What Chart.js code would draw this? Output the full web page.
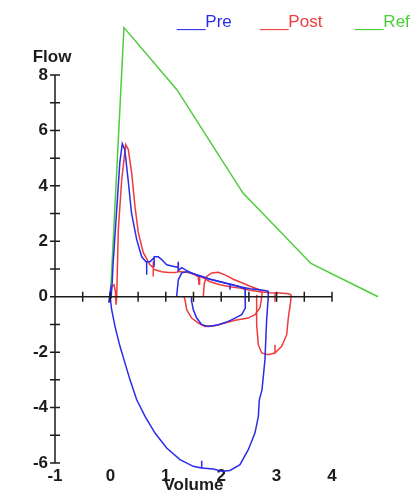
<!DOCTYPE html>
<html>
<head>
<meta charset="utf-8">
<script src="https://cdn.jsdelivr.net/npm/chart.js@4.4.1/dist/chart.umd.min.js"></script>
<style>
  html, body { margin: 0; padding: 0; background: #fff; }
</style>
</head>
<body>
<canvas id="loopChart" width="415" height="496"></canvas>
<script>
// flow-volume loops, [volume, flow]
const preTrial1 = [
  [0.00, 0.00], [-0.03, -0.22], [0.00, 0.22], [0.01, -0.07], [0.03, 0.43], [0.05, 1.23],
  [0.11, 3.03], [0.17, 4.84], [0.215, 5.52], [0.26, 5.30], [0.32, 4.22], [0.38, 3.03],
  [0.475, 2.06], [0.565, 1.44], [0.655, 1.23], [0.655, 0.79], [0.655, 1.26], [0.715, 1.26],
  [0.79, 1.41], [0.79, 1.08], [0.79, 1.44], [0.865, 1.44], [0.926, 1.34], [1.016, 1.15],
  [1.166, 1.08], [1.226, 1.05], [1.226, 1.26], [1.226, 0.94], [1.287, 1.05], [1.437, 0.87],
  [1.617, 0.76], [1.798, 0.63], [1.978, 0.54], [2.159, 0.45], [2.159, 0.25], [2.159, 0.45],
  [2.339, 0.36], [2.52, 0.29], [2.70, 0.25], [2.845, 0.20],
  [2.85, 0.00], [2.82, -0.83], [2.79, -2.27], [2.736, -3.36], [2.688, -3.72], [2.67, -4.33],
  [2.61, -4.91], [2.489, -5.52], [2.339, -6.06], [2.159, -6.27], [2.009, -6.30], [1.857, -6.22],
  [1.648, -6.18], [1.648, -5.92], [1.648, -6.18], [1.496, -6.12], [1.256, -5.88], [1.016, -5.46],
  [0.805, -4.92], [0.625, -4.32], [0.475, -3.72], [0.354, -3.00], [0.245, -2.27], [0.173, -1.79],
  [0.083, -1.07], [0.023, -0.47], [0.00, -0.11]
];
const preTrial2 = [
  [1.196, 0.00], [1.211, 0.32], [1.226, 0.61], [1.287, 0.86], [1.406, 0.91], [1.587, 0.76],
  [1.767, 0.65], [1.948, 0.56], [2.128, 0.47], [2.309, 0.38], [2.43, 0.29], [2.44, 0.18],
  [2.43, -0.41], [2.37, -0.65], [2.249, -0.77], [2.128, -0.89], [1.948, -1.01], [1.767, -1.07],
  [1.648, -1.01], [1.558, -0.77], [1.496, -0.47], [1.467, -0.17], [1.464, 0.00]
];
const postTrial1 = [
  [0.00, 0.00], [0.023, 0.36], [0.065, 0.43], [0.092, 0.18], [0.101, -0.29], [0.114, 0.00],
  [0.143, 2.42], [0.204, 4.22], [0.276, 5.49], [0.323, 5.31], [0.384, 4.47], [0.444, 3.25],
  [0.504, 2.31], [0.594, 1.59], [0.715, 1.15], [0.774, 1.05], [0.774, 1.27], [0.774, 0.73],
  [0.774, 1.00], [0.805, 0.97], [0.926, 0.90], [1.045, 0.87], [1.166, 0.87], [1.226, 0.90],
  [1.226, 1.23], [1.226, 0.90], [1.287, 0.90], [1.406, 0.87], [1.527, 0.79], [1.587, 0.72],
  [1.60, 0.45], [1.61, 0.72], [1.648, 0.72], [1.798, 0.54], [1.978, 0.43], [2.159, 0.36],
  [2.339, 0.31], [2.52, 0.23], [2.70, 0.18], [2.881, 0.14], [2.971, 0.13], [2.971, -0.18],
  [2.971, 0.13], [3.061, 0.13], [3.211, 0.11], [3.26, 0.07], [3.26, 0.00],
  [3.25, -0.22], [3.211, -0.77], [3.182, -1.37], [3.092, -1.79], [2.971, -2.03], [2.971, -1.73],
  [2.971, -2.03], [2.85, -2.09], [2.731, -2.03], [2.67, -1.73], [2.64, -1.01], [2.64, 0.07]
];
const postTrial2 = [
  [1.677, 0.00], [1.695, 0.49], [1.738, 0.73], [1.829, 0.86], [1.948, 0.88], [2.069, 0.79],
  [2.219, 0.63], [2.37, 0.505], [2.52, 0.38], [2.664, 0.27], [2.736, 0.16], [2.736, 0.04],
  [2.70, -0.40], [2.61, -0.65], [2.489, -0.77], [2.249, -0.85], [2.069, -0.95], [1.888, -1.05],
  [1.708, -1.07], [1.587, -0.95], [1.467, -0.77], [1.377, -0.47], [1.347, -0.11], [1.328, 0.00]
];
const refCurve = [[0.00, 0.00], [0.245, 9.71], [1.20, 7.47], [2.39, 3.75], [3.62, 1.20], [4.83, 0.00]];

const volumeLabels = [-1, 0, 1, 2, 3, 4];
const flowLabels = [-6, -4, -2, 0, 2, 4, 6, 8];
const volumeMarks = [-0.5, 0, 0.5, 1, 1.5, 2, 2.5, 3, 3.5, 4];
const flowMarks = [-6, -5, -4, -3, -2, -1, 0, 1, 2, 3, 4, 5, 6, 7, 8];
const seriesNames = ['Pre', 'Post', 'Ref'];
const seriesColors = ['#2b2bea', '#ee3b3b', '#4fcc3c'];

const FONT = "'Liberation Sans', Arial, sans-serif";
const INK = '#1c1c1c';

function pts(arr) { return arr.map(p => ({x: p[0], y: p[1]})); }
function trace(arr, color) {
  return {
    data: pts(arr), borderColor: color, borderWidth: 1.5, showLine: true,
    pointRadius: 0, tension: 0, clip: false, fill: false
  };
}

const crossAxes = {
  id: 'crossAxes',
  afterDatasetsDraw(chart) {
    const {ctx, scales: {x, y}} = chart;
    const left = x.getPixelForValue(-1), right = x.getPixelForValue(4);
    const zero = y.getPixelForValue(0);
    ctx.save();
    ctx.strokeStyle = INK;
    ctx.lineWidth = 1.5;
    ctx.beginPath();
    ctx.moveTo(left, y.getPixelForValue(8));
    ctx.lineTo(left, y.getPixelForValue(-6));
    ctx.moveTo(left, zero);
    ctx.lineTo(right, zero);
    flowMarks.forEach(v => {
      const p = y.getPixelForValue(v);
      ctx.moveTo(left - 5, p); ctx.lineTo(left + 5, p);
    });
    volumeMarks.forEach(v => {
      const p = x.getPixelForValue(v);
      ctx.moveTo(p, zero - 5); ctx.lineTo(p, zero + 5);
    });
    ctx.stroke();

    // y title
    ctx.fillStyle = INK;
    ctx.font = 'bold 17px ' + FONT;
    ctx.textAlign = 'center';
    ctx.textBaseline = 'alphabetic';
    ctx.fillText('Flow', 52, 62);

    // legend
    ctx.font = '17px ' + FONT;
    ctx.textAlign = 'left';
    const legX = [177, 260, 355];
    seriesNames.forEach((n, i) => {
      ctx.fillStyle = seriesColors[i];
      ctx.fillText('___' + n, legX[i], 27);
    });
    ctx.restore();
  }
};

new Chart(document.getElementById('loopChart'), {
  type: 'scatter',
  data: {
    datasets: [
      trace(preTrial1, seriesColors[0]),
      trace(preTrial2, seriesColors[0]),
      trace(postTrial1, seriesColors[1]),
      trace(postTrial2, seriesColors[1]),
      trace(refCurve, seriesColors[2])
    ]
  },
  options: {
    responsive: false,
    animation: false,
    devicePixelRatio: 1,
    layout: {padding: {left: 0, top: 75, right: 83, bottom: 0}},
    plugins: {legend: {display: false}, tooltip: {enabled: false}},
    scales: {
      x: {
        type: 'linear', min: -1, max: 4, position: 'bottom',
        grid: {display: false, drawTicks: false}, border: {display: false},
        afterBuildTicks: s => { s.ticks = volumeLabels.map(v => ({value: v})); },
        afterFit: s => { s.height = 33; },
        ticks: {color: INK, font: {family: FONT, size: 17, weight: 'bold'}, padding: 3, maxRotation: 0},
        title: {display: true, text: 'Volume', color: INK, padding: 0,
                font: {family: FONT, size: 17, weight: 'bold'}}
      },
      y: {
        type: 'linear', min: -6, max: 8, position: 'left',
        grid: {display: false, drawTicks: false}, border: {display: false},
        afterBuildTicks: s => { s.ticks = flowLabels.map(v => ({value: v})); },
        afterFit: s => { s.width = 55; },
        ticks: {color: INK, font: {family: FONT, size: 17, weight: 'bold'}, padding: 7}
      }
    }
  },
  plugins: [crossAxes]
});
</script>
</body>
</html>
